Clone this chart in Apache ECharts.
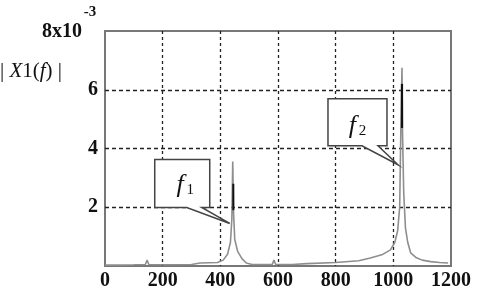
<!DOCTYPE html>
<html><head><meta charset="utf-8">
<script src="https://cdn.jsdelivr.net/npm/echarts@6/dist/echarts.min.js"></script>
<style>html,body{margin:0;padding:0;background:#fff}#c{width:482px;height:298px}</style>
</head><body><div id="c"></div>
<script>
// x ticks and y ticks
const xTicks = [0, 200, 400, 600, 800, 1000, 1200];
const yTicks = [0, 2, 4, 6, 8];
// |X1(f)| spectrum (x1e-3), gray trace
const spectrumFreq = [0,50,100,140,146,152,200,300,330,390,410,425,435,440,443,446,450,460,475,490,510,580,586,592,650,700,800,880,920,960,990,1005,1015,1022,1026,1028,1030,1032,1036,1042,1050,1060,1080,1100,1130,1160,1190];
const spectrumAmp  = [0.03,0.03,0.04,0.05,0.2,0.05,0.04,0.05,0.1,0.12,0.2,0.4,0.8,1.6,3.56,1.8,0.9,0.5,0.25,0.1,0.05,0.05,0.2,0.05,0.05,0.08,0.12,0.18,0.27,0.38,0.55,0.8,1.2,2.0,4.6,4.6,6.75,4.5,2.5,1.3,0.8,0.45,0.28,0.2,0.15,0.12,0.1];
// dark spike segments
const spike1Freq = [445, 445];
const spike1Amp  = [1.9, 2.8];
const spike2Freq = [1030, 1030];
const spike2Amp  = [4.7, 6.2];
// callout labels
const callouts = [
  {name: 'f', sub: '1', freq: 443, amp: 3.56},
  {name: 'f', sub: '2', freq: 1030, amp: 6.75}
];

const zip = (a, b) => a.map((v, i) => [v, b[i]]);
const chart = echarts.init(document.getElementById('c'), null, {renderer: 'canvas'});
const serif = 'Liberation Serif';
const gridPos = {left: 105, right: 31, top: 31, bottom: 32};
chart.setOption({
  animation: false,
  grid: Object.assign({show: true, borderColor: '#777', borderWidth: 2, backgroundColor: '#fff'}, gridPos),
  xAxis: {
    type: 'value', min: xTicks[0], max: xTicks[xTicks.length - 1], interval: 200,
    axisLine: {show: false}, axisTick: {show: false},
    axisLabel: {fontFamily: serif, fontWeight: 'bold', fontSize: 20, color: '#111', margin: 5, formatter: v => String(v)},
    splitLine: {show: true, showMinLine: false, showMaxLine: false, lineStyle: {color: '#222', type: [3, 3], width: 1.3}}
  },
  yAxis: {
    type: 'value', min: yTicks[0], max: yTicks[yTicks.length - 1], interval: 2,
    axisLine: {show: false}, axisTick: {show: false},
    axisLabel: {fontFamily: serif, fontWeight: 'bold', fontSize: 20, color: '#111', margin: 7,
      formatter: v => (v === 0 || v === 8) ? '' : String(v)},
    splitLine: {show: true, showMinLine: false, showMaxLine: false, lineStyle: {color: '#222', type: [4, 3], width: 1.3}}
  },
  series: [
    {type: 'line', data: zip(spectrumFreq, spectrumAmp), showSymbol: false, lineStyle: {color: '#8e8e8e', width: 1.6}, z: 3},
    {type: 'line', data: zip(spike1Freq, spike1Amp), showSymbol: false, lineStyle: {color: '#111', width: 2}, z: 4},
    {type: 'line', data: zip(spike2Freq, spike2Amp), showSymbol: false, lineStyle: {color: '#111', width: 2.2}, z: 4}
  ]
});

function px(x, y) { return chart.convertToPixel({gridIndex: 0}, [x, y]); }
const g = [];
function txt(x, y, text, size, opts) {
  return {type: 'text', z: 11, x: x, y: y, style: Object.assign({text: text, fontFamily: serif, fontSize: size, fill: '#111',
    align: 'center', verticalAlign: 'middle'}, opts || {})};
}
// callout boxes: box offset relative to the peak in pixels
const boxDefs = [
  {dx0: -78, dx1: -23, dy0: -2, dy1: 46, wl: -46, wr: -31, tipDx: -3, tipDy: 62, fx: -2, fy: 2, sx: 8, sy: 7},
  {dx0: -74, dx1: -15, dy0: 31, dy1: 78, wl: -40, wr: -24, tipDx: -4, tipDy: 97, fx: -5, fy: 4, sx: 5, sy: 9}
];
callouts.forEach((c, i) => {
  const p = px(c.freq, c.amp);
  const d = boxDefs[i];
  const x0 = p[0] + d.dx0, x1 = p[0] + d.dx1, y0 = p[1] + d.dy0, y1 = p[1] + d.dy1;
  const tip = [p[0] + d.tipDx, p[1] + d.tipDy];
  g.push({type: 'polygon', z: 10, shape: {points: [[x0, y0], [x1, y0], [x1, y1], [p[0] + d.wr, y1], tip, [p[0] + d.wl, y1], [x0, y1]]},
    style: {fill: '#fff', stroke: '#444', lineWidth: 1.5}});
  const cx = (x0 + x1) / 2, cy = (y0 + y1) / 2;
  g.push(txt(cx + d.fx, cy + d.fy, c.name, 26, {fontStyle: 'italic'}));
  g.push(txt(cx + d.sx, cy + d.sy, c.sub, 15));
});
// y-axis top label with exponent
const topPt = px(0, 8);
g.push(txt(topPt[0] - 23, topPt[1] + 1, '8x10', 20, {fontWeight: 'bold', align: 'right'}));
g.push(txt(topPt[0] - 15, topPt[1] - 19, '-3', 15, {fontWeight: 'bold'}));
// y-axis title
g.push({type: 'text', z: 11, x: 0, y: 71, style: {
  text: '{n||}{i| X}{n|1(}{i|f}{n|) |}',
  rich: {n: {fontFamily: serif, fontSize: 21, fill: '#111'}, i: {fontFamily: serif, fontStyle: 'italic', fontSize: 21, fill: '#111'}},
  align: 'left', verticalAlign: 'middle'}});
chart.setOption({graphic: g});
</script></body></html>
